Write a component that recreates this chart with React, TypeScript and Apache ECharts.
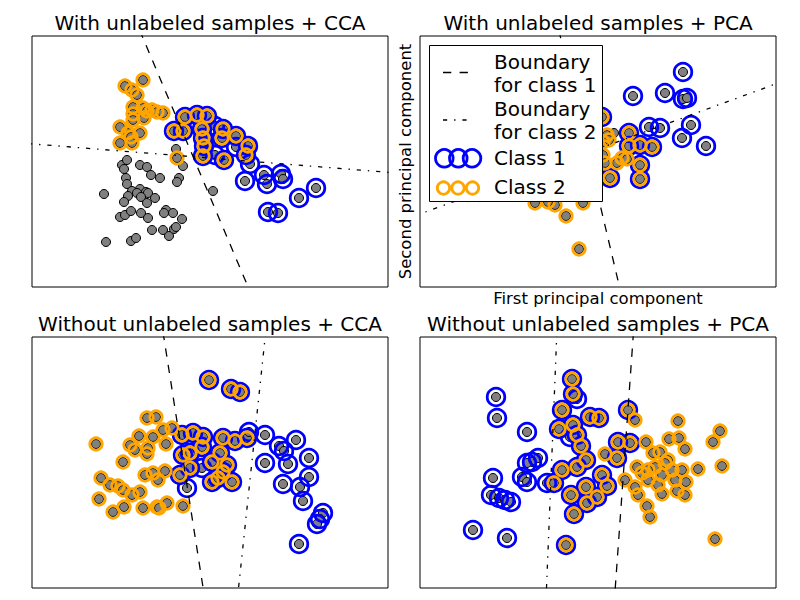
import React, { useEffect, useRef } from "react";
import * as echarts from "echarts";

// Each sample: [x, y, labels]  labels: 0 = none, 1 = class 1, 2 = class 2, 3 = both
type Pt = [number, number, number];

const TL_POINTS: Pt[] = [
  [143,80,2],[125,86,2],[132,90,2],[137,95,2],[133,107,2],[143,108,2],[147,111,2],[152,110,2],[157,112,2],[163,113,2],
  [133,114,2],[144,118,2],[133,120,2],[120,127,2],[128,133,2],[140,133,2],[131,137,2],[120,143,2],[132,143,2],[177,158,2],
  [185,117,3],[197,115,3],[207,116,3],[174,131,3],[183,131,3],[202,129,3],[215,126,1],[223,129,3],[203,138,3],[222,138,3],
  [236,136,3],[204,146,3],[236,147,1],[248,146,3],[203,156,3],[224,160,3],[246,155,3],[215,155,1],
  [250,164,1],[245,181,1],[264,175,1],[267,184,1],[281,174,1],[283,179,1],[299,198,1],[316,188,1],[268,212,1],[278,213,1],
  [176,149,0],[183,166,0],[179,178,0],[177,182,0],[213,191,0],[122,165,0],[127,160,0],[124,169,0],[140,165,0],[147,167,0],
  [151,175,0],[160,178,0],[126,178,0],[127,184,0],[104,194,0],[132,191,0],[140,189,0],[146,192,0],[137,193,0],[148,193,0],
  [128,196,0],[141,197,0],[155,198,0],[124,202,0],[147,203,0],[120,217,0],[125,215,0],[131,211,0],[141,213,0],[148,218,0],
  [166,210,0],[173,213,0],[164,213,0],[182,219,0],[152,230,0],[163,230,0],[169,236,0],[174,229,0],[176,227,0],[106,242,0],
  [131,241,0],[136,238,0]
];
const TL_DASHED: [number, number][] = [[139.6,30],[250.2,292]];
const TL_DASHDOT: [number, number][] = [[28,143.6],[392,172.6]];

const TR_POINTS: Pt[] = [
  [683,72,1],[633,96,1],[665,93,1],[683,99,1],[687,98,1],[649,127,1],[660,128,1],[691,125,1],[682,138,1],[706,146,1],
  [629,133,3],[640,145,3],[652,147,3],[629,146,3],[640,165,3],[640,179,3],[610,178,3],[602,117,3],
  [622,158,2],[617,163,2],[627,159,2],[603,155,2],[607,135,2],[603,142,2],[609,140,2],[605,163,2],
  [535,203,2],[555,205,2],[548,202,2],[583,203,2],[566,216,2],[579,249,2],
  [614,133,0]
];
const TR_DASHED: [number, number][] = [[558.8,30],[620.7,292]];
const TR_DASHDOT: [number, number][] = [[415,215.8],[780,82.4]];

const BL_POINTS: Pt[] = [
  [96,444,2],[147,418,2],[156,417,2],[139,436,2],[130,445,2],[135,450,2],[148,448,2],[153,437,2],[163,430,2],[172,428,2],
  [166,444,2],[147,454,2],[123,462,2],[101,478,2],[110,485,2],[118,486,2],[123,490,2],[132,495,2],[140,492,2],[145,475,2],
  [153,473,2],[165,471,2],[158,480,2],[99,499,2],[113,512,2],[124,507,2],[143,508,2],[157,507,2],[167,503,2],[159,508,2],
  [183,506,2],
  [209,380,3],[231,389,3],[240,392,3],[182,435,3],[193,433,3],[203,437,3],[223,438,3],[235,441,3],[247,438,3],[183,455,3],
  [190,453,3],[202,447,3],[180,475,3],[190,468,3],[212,462,3],[220,453,3],[227,465,3],[212,482,3],[218,478,3],[232,482,3],
  [223,472,3],
  [187,488,1],[202,468,1],[249,432,1],[265,435,1],[279,446,1],[284,451,1],[296,440,1],[309,458,1],[288,464,1],[265,463,1],
  [283,484,1],[300,487,1],[309,477,1],[303,501,1],[323,513,1],[320,519,1],[317,524,1],[299,544,1]
];
const BL_DASHED: [number, number][] = [[163.0,332],[203.9,593]];
const BL_DASHDOT: [number, number][] = [[265.7,332],[238.0,593]];

const BR_POINTS: Pt[] = [
  [496,397,1],[497,418,1],[527,432,1],[532,462,1],[538,458,1],[527,463,1],[493,478,1],[522,477,1],[527,482,1],[547,483,1],
  [491,495,1],[499,498,1],[505,500,1],[511,502,1],[473,530,1],[507,538,1],[577,399,1],[570,437,1],
  [572,379,3],[573,394,3],[562,410,3],[559,429,3],[573,425,3],[577,435,3],[590,417,3],[599,418,3],[581,446,3],[562,470,3],
  [577,467,3],[586,460,3],[554,483,3],[571,495,3],[586,487,3],[587,503,3],[597,497,3],[574,514,3],[566,545,3],[618,442,3],
  [630,443,3],[617,458,3],[602,475,3],[607,486,3],[628,410,3],
  [635,420,2],[646,442,2],[605,454,2],[678,421,2],[669,439,2],[679,438,2],[685,449,2],[720,431,2],[713,442,2],[722,466,2],
  [698,469,2],[682,470,2],[686,482,2],[685,495,2],[677,491,2],[662,494,2],[638,495,2],[647,506,2],[650,517,2],[715,539,2],
  [653,453,2],[660,452,2],[668,460,2],[655,467,2],[662,475,2],[672,470,2],[648,480,2],[642,473,2],[637,467,2],[635,487,2],
  [625,480,2],[658,485,2],[675,480,2],[665,463,2],[648,470,2]
];
const BR_DASHED: [number, number][] = [[633.5,332],[614.9,593]];
const BR_DASHDOT: [number, number][] = [[556.9,332],[546.3,593]];

const TITLES = [
  "With unlabeled samples + CCA",
  "With unlabeled samples + PCA",
  "Without unlabeled samples + CCA",
  "Without unlabeled samples + PCA",
];
const X_LABEL = "First principal component";
const Y_LABEL = "Second principal component";
const LEGEND_LABELS = ["Boundary\nfor class 1", "Boundary\nfor class 2", "Class 1", "Class 2"];

const FONT = '"DejaVu Sans", "Liberation Sans", sans-serif';
const BLUE = "#0000ff";
const ORANGE = "#ffa500";
const GRAY = "#808080";

const PANELS = [
  { points: TL_POINTS, dashed: TL_DASHED, dashdot: TL_DASHDOT, box: [32, 36, 356, 251] },
  { points: TR_POINTS, dashed: TR_DASHED, dashdot: TR_DASHDOT, box: [420, 36, 356, 251] },
  { points: BL_POINTS, dashed: BL_DASHED, dashdot: BL_DASHDOT, box: [32, 337, 356, 251] },
  { points: BR_POINTS, dashed: BR_DASHED, dashdot: BR_DASHDOT, box: [420, 337, 356, 251] },
];

function txt(text: string, x: number, y: number, size: number, align: string, extra: any = {}) {
  return {
    type: "text",
    z: 100,
    x,
    y,
    ...extra,
    style: {
      text,
      x: 0,
      y: 0,
      font: `${size}px ${FONT}`,
      fill: "#000",
      lineHeight: 23.4,
      align,
      verticalAlign: "middle",
      textAlign: align,
      textVerticalAlign: "middle",
    },
  };
}

export default function App() {
  const ref = useRef<HTMLDivElement>(null);
  useEffect(() => {
    if (!ref.current) return;
    const chart = echarts.init(ref.current, undefined, { renderer: "svg" });
    const grid: any[] = [];
    const xAxis: any[] = [];
    const yAxis: any[] = [];
    const series: any[] = [];
    PANELS.forEach((p, i) => {
      const [l, t, w, h] = p.box;
      grid.push({ left: l, top: t, width: w, height: h, show: true, borderColor: "#000", borderWidth: 1, backgroundColor: "#fff" });
      xAxis.push({ type: "value", gridIndex: i, min: l, max: l + w, show: false });
      yAxis.push({ type: "value", gridIndex: i, min: t, max: t + h, inverse: true, show: false });
      const base = { type: "scatter", xAxisIndex: i, yAxisIndex: i, silent: true, z: 2 };
      series.push({
        ...base,
        data: p.points.map((q) => [q[0], q[1]]),
        symbolSize: 9,
        itemStyle: { color: GRAY, borderColor: "#000", borderWidth: 1, opacity: 1 },
      });
      series.push({
        ...base,
        data: p.points.filter((q) => q[2] & 1).map((q) => [q[0], q[1]]),
        symbolSize: 17.6,
        itemStyle: { color: "rgba(0,0,0,0)", borderColor: BLUE, borderWidth: 2.8, opacity: 1 },
      });
      series.push({
        ...base,
        data: p.points.filter((q) => q[2] & 2).map((q) => [q[0], q[1]]),
        symbolSize: 12.4,
        itemStyle: { color: "rgba(0,0,0,0)", borderColor: ORANGE, borderWidth: 2.8, opacity: 1 },
      });
      const lineBase = { type: "line", xAxisIndex: i, yAxisIndex: i, silent: true, showSymbol: false, symbol: "none", clip: true, z: 3 };
      series.push({ ...lineBase, data: p.dashed, lineStyle: { color: "#000", width: 1.3, type: [8.3, 8.3] } });
      series.push({ ...lineBase, data: p.dashdot, lineStyle: { color: "#000", width: 1.3, type: [4.2, 6.9, 1.4, 6.9] } });
    });

    const graphics: any[] = [];
    const centers = [[210, 23], [598, 23], [210, 324], [598, 324]];
    TITLES.forEach((t, i) => graphics.push(txt(t, centers[i][0], centers[i][1], 20, "center")));
    graphics.push(txt(X_LABEL, 598, 298, 16.5, "center"));
    graphics.push(txt(Y_LABEL, 405, 161.5, 16.5, "center", { rotation: Math.PI / 2 }));

    // legend
    graphics.push({
      type: "rect", z: 100,
      shape: { x: 429.5, y: 45.5, width: 173, height: 156 },
      style: { fill: "#fff", stroke: "#000", lineWidth: 1 },
    });
    graphics.push({
      type: "line", z: 101,
      shape: { x1: 443, y1: 72.5, x2: 468, y2: 72.5 },
      style: { stroke: "#000", lineWidth: 1.3, lineDash: [8.3, 8.3] },
    });
    graphics.push({
      type: "line", z: 101,
      shape: { x1: 443, y1: 120, x2: 468, y2: 120 },
      style: { stroke: "#000", lineWidth: 1.3, lineDash: [4.2, 6.9, 1.4, 6.9] },
    });
    [444.3, 458.3, 472].forEach((cx) =>
      graphics.push({ type: "circle", z: 101, shape: { cx, cy: 158.3, r: 8.8 }, style: { fill: "none", stroke: BLUE, lineWidth: 2.8 } })
    );
    [443.5, 458, 472.5].forEach((cx) =>
      graphics.push({ type: "circle", z: 101, shape: { cx, cy: 188, r: 6.2 }, style: { fill: "none", stroke: ORANGE, lineWidth: 2.8 } })
    );
    const ly = [73.5, 120.5, 158, 187];
    LEGEND_LABELS.forEach((t, i) => graphics.push({ ...txt(t, 494, ly[i], 20, "left"), z: 102 }));

    chart.setOption({
      animation: false,
      backgroundColor: "#fff",
      grid,
      xAxis,
      yAxis,
      series,
      graphic: { elements: graphics },
    });
    return () => chart.dispose();
  }, []);
  return <div ref={ref} style={{ position: "absolute", left: 0, top: 0, width: 800, height: 600 }} />;
}
